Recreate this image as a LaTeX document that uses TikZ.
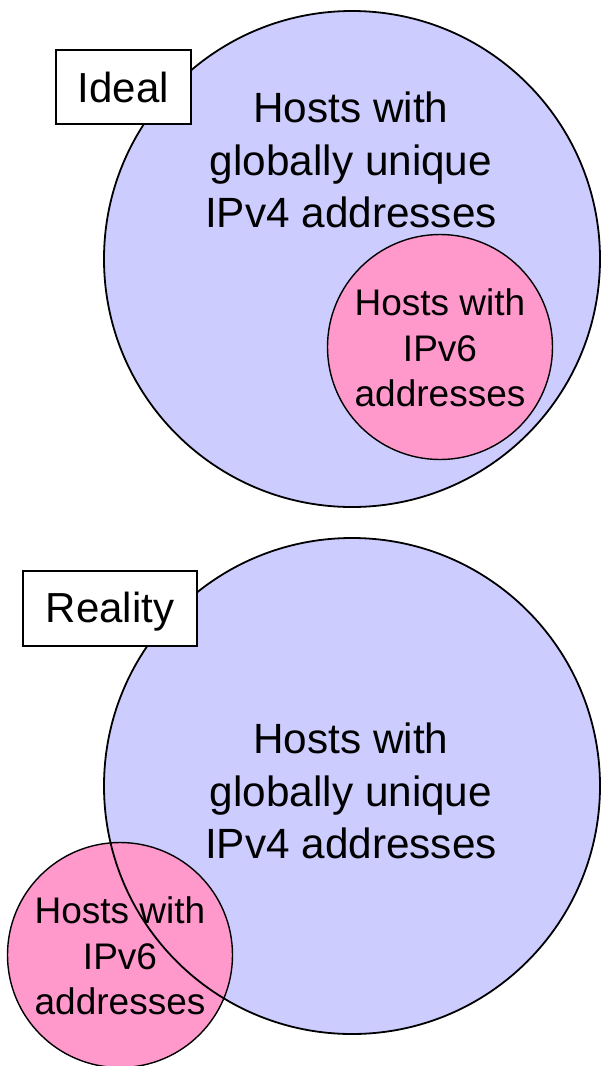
\documentclass[tikz,border=0pt]{standalone}
\usepackage{fontspec}
\setmainfont{Liberation Sans}
\definecolor{ipvfour}{HTML}{CCCCFF}
\definecolor{ipvsix}{HTML}{FF99CC}
\begin{document}
\begin{tikzpicture}[x=1pt,y=-1pt,
  bigset/.style={circle,fill=ipvfour,inner sep=0pt,minimum size=496pt},
  bigrim/.style={circle,draw=black,line width=1.8pt,inner sep=0pt,minimum size=496pt},
  smallset/.style={circle,fill=ipvsix,draw=black,line width=1.4pt,inner sep=0pt,minimum size=225pt},
  biglabel/.style={align=center,inner sep=0pt,font=\fontsize{42.3}{52.5}\selectfont},
  smalllabel/.style={align=center,inner sep=0pt,font=\fontsize{37}{45.5}\selectfont},
  tag/.style={draw=black,fill=white,line width=1.8pt,inner sep=0pt,font=\fontsize{42}{50}\selectfont}]
\useasboundingbox (0,0) rectangle (600,1066);

% upper panel: the IPv6 hosts lie wholly inside the IPv4 hosts
\node[bigset] (v4a) at (352,259) {};
\node[bigrim] (v4arim) at (352,259) {};
\node[smallset] (v6a) at (440,347) {};
\node[biglabel] (v4atext) at (351,160) {Hosts with\\globally unique\\IPv4 addresses};
\node[smalllabel] (v6atext) at (440,348) {Hosts with\\IPv6\\addresses};
\node[tag,minimum width=135pt,minimum height=74pt] (ideal) at (123.5,87) {Ideal};

% lower panel: the IPv6 hosts only partly overlap the IPv4 hosts
\node[bigset] (v4b) at (352,786) {};
\node[smallset] (v6b) at (120,955) {};
\node[smalllabel] (v6btext) at (120,956) {Hosts with\\IPv6\\addresses};
\node[bigrim] (v4brim) at (352,786) {};
\node[biglabel] (v4btext) at (351,791) {Hosts with\\globally unique\\IPv4 addresses};
\node[tag,minimum width=174pt,minimum height=75pt,text depth=2pt] (reality) at (110,608.5) {Reality};
\end{tikzpicture}
\end{document}
